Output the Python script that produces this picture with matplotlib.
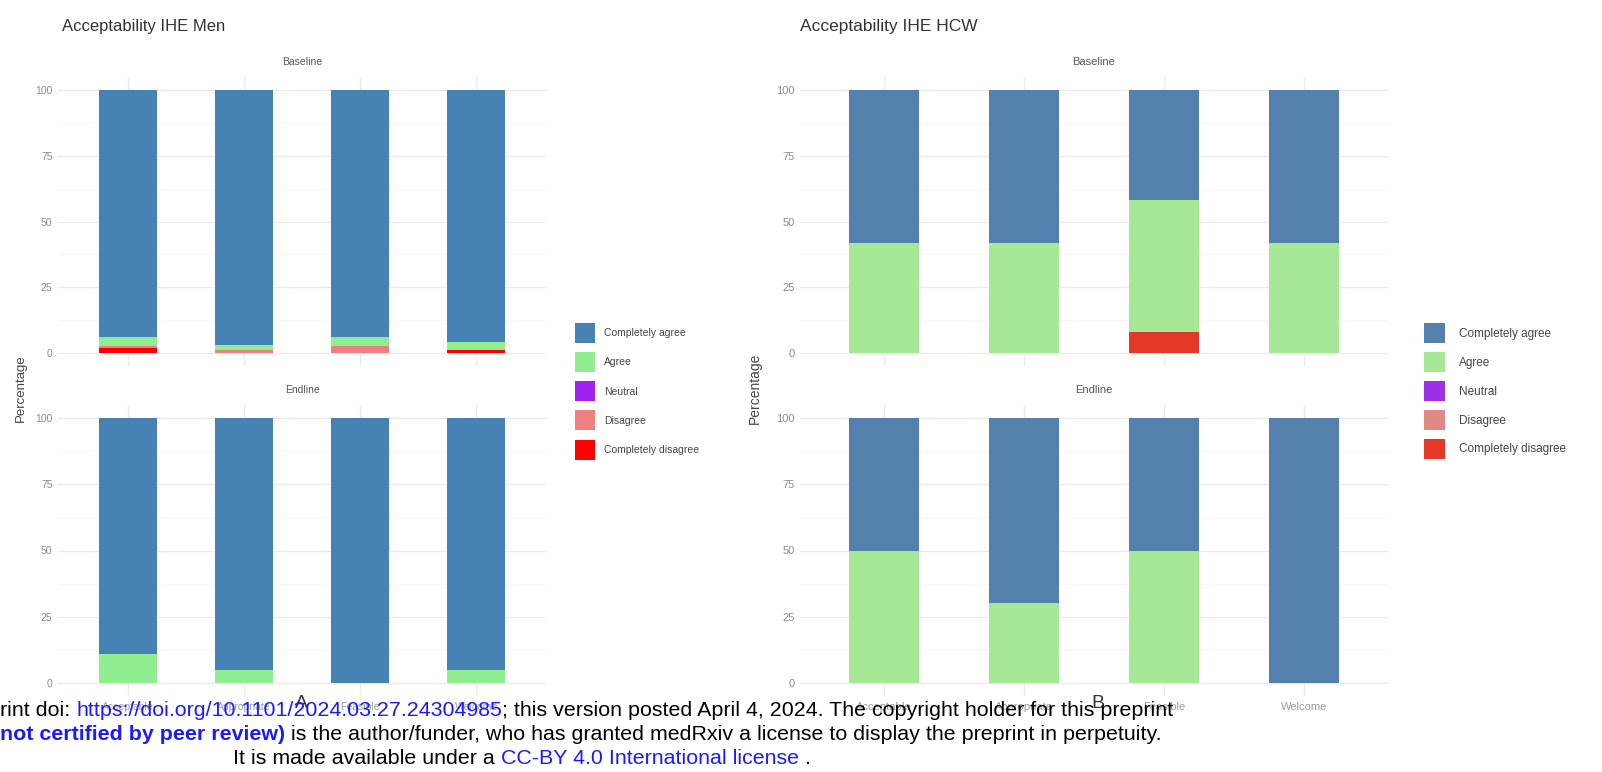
import numpy as np
import matplotlib
matplotlib.use("Agg")
import matplotlib.pyplot as plt
from matplotlib.patches import Patch

plt.rcParams['font.family'] = ['Liberation Sans', 'DejaVu Sans']

W, H = 1602, 772

# -----------------------------------------
# DATA
# -----------------------------------------
levels = ["Completely agree", "Agree", "Neutral", "Disagree", "Completely disagree"]
# stacking order from the bottom
stack_order = ["Completely disagree", "Disagree", "Neutral", "Agree", "Completely agree"]

men_items = ["Acceptable", "Appropriate", "Feasible", "Welcome"]
hcw_items = ["Acceptable", "Appropriate", "Feasible", "Welcome"]

men_baseline = {
    "Completely agree": [94, 97, 94, 96],
    "Agree": [3.5, 2, 3.5, 3],
    "Neutral": [0, 0, 0, 0],
    "Disagree": [0.5, 1, 2.5, 0],
    "Completely disagree": [2, 0, 0, 1],
}
men_endline = {
    "Completely agree": [89, 95, 100, 95],
    "Agree": [11, 5, 0, 5],
    "Neutral": [0, 0, 0, 0],
    "Disagree": [0, 0, 0, 0],
    "Completely disagree": [0, 0, 0, 0],
}
hcw_baseline = {
    "Completely agree": [58, 58, 42, 58],
    "Agree": [42, 42, 50, 42],
    "Neutral": [0, 0, 0, 0],
    "Disagree": [0, 0, 0, 0],
    "Completely disagree": [0, 0, 8, 0],
}
hcw_endline = {
    "Completely agree": [50, 70, 50, 100],
    "Agree": [50, 30, 50, 0],
    "Neutral": [0, 0, 0, 0],
    "Disagree": [0, 0, 0, 0],
    "Completely disagree": [0, 0, 0, 0],
}

men_colors = {
    "Completely agree": "#4682B4",
    "Agree": "#90EE90",
    "Neutral": "#A020F0",
    "Disagree": "#F08080",
    "Completely disagree": "#FF0000",
}
hcw_colors = {
    "Completely agree": "#5480AE",
    "Agree": "#A6E896",
    "Neutral": "#9B30E6",
    "Disagree": "#E08A86",
    "Completely disagree": "#E33826",
}

fig = plt.figure(figsize=(W / 100, H / 100), dpi=100)


def px_axes(x0, x1, y_top, y_bot):
    return fig.add_axes([x0 / W, 1 - y_bot / H, (x1 - x0) / W, (y_bot - y_top) / H])


def facet(ax, items, data, colors, strip, tick_fs, show_xlabels):
    x = np.arange(len(items))
    bottom = np.zeros(len(items))
    for lev in stack_order:
        vals = np.array(data[lev], dtype=float)
        ax.bar(x, vals, width=0.5, bottom=bottom, color=colors[lev], linewidth=0, zorder=3)
        bottom += vals
    ax.set_xlim(-0.6, len(items) - 0.4)
    ax.set_ylim(-5, 105)
    ax.set_yticks([0, 25, 50, 75, 100])
    ax.set_yticks([12.5, 37.5, 62.5, 87.5], minor=True)
    ax.set_xticks(x)
    ax.grid(True, which="major", color="#EBEBEB", linewidth=1.0, zorder=0)
    ax.grid(True, which="minor", axis="y", color="#F5F5F5", linewidth=0.6, zorder=0)
    for s in ax.spines.values():
        s.set_visible(False)
    ax.tick_params(which="both", length=0, labelsize=tick_fs, colors="#8C8C8C", pad=4)
    if show_xlabels:
        ax.set_xticklabels(items, color="#9A9A9A")
    else:
        ax.set_xticklabels([])
    ax.set_title(strip, fontsize=tick_fs, color="#555555", pad=8.5)


# left block: Men
ax = px_axes(58, 546, 77, 366)
facet(ax, men_items, men_baseline, men_colors, "Baseline", 7.5, False)
ax = px_axes(58, 546, 405, 696)
facet(ax, men_items, men_endline, men_colors, "Endline", 7.5, True)

# right block: HCW
ax = px_axes(800, 1388, 77, 366)
facet(ax, hcw_items, hcw_baseline, hcw_colors, "Baseline", 8, False)
ax = px_axes(800, 1388, 405, 696)
facet(ax, hcw_items, hcw_endline, hcw_colors, "Endline", 8, True)

# titles and y labels
fig.text(62 / W, 1 - 26 / H, "Acceptability IHE Men", fontsize=12, color="#333333", va="center")
fig.text(800 / W, 1 - 26 / H, "Acceptability IHE HCW", fontsize=12.5, color="#333333", va="center")
fig.text(21 / W, 1 - 388 / H, "Percentage", fontsize=9.5, color="#444444", rotation=90, ha="center", va="center")
fig.text(755 / W, 1 - 388 / H, "Percentage", fontsize=10, color="#444444", rotation=90, ha="center", va="center")

# legends
h_men = [Patch(facecolor=men_colors[l], edgecolor="none") for l in levels]
fig.legend(h_men, levels, loc="upper left", bbox_to_anchor=(570 / W, 1 - 318 / H),
           frameon=False, fontsize=7.5, handlelength=1.9, handleheight=2.58,
           labelspacing=0.87, handletextpad=0.9, labelcolor="#444444", borderpad=0)
h_hcw = [Patch(facecolor=hcw_colors[l], edgecolor="none") for l in levels]
fig.legend(h_hcw, levels, loc="upper left", bbox_to_anchor=(1418 / W, 1 - 317 / H),
           frameon=False, fontsize=8.5, handlelength=1.78, handleheight=2.23,
           labelspacing=0.76, handletextpad=1.2, labelcolor="#444444", borderpad=0)

# panel letters
fig.text(301 / W, 1 - 703 / H, "A", fontsize=14, color="#333333", ha="center", va="center")
fig.text(1098 / W, 1 - 703 / H, "B", fontsize=14, color="#333333", ha="center", va="center")

# medRxiv footer, drawn piece by piece
renderer = fig.canvas.get_renderer()
blue = "#1A1AFF"


def footer_line(x_px, y_px, pieces, fs=15.4):
    x = x_px
    for txt, col, wt in pieces:
        t = fig.text(x / W, 1 - y_px / H, txt, fontsize=fs, color=col, weight=wt,
                     va="center", ha="left")
        bb = t.get_window_extent(renderer=renderer)
        x += bb.width


footer_line(0, 711, [("rint doi: ", "black", "normal"),
                     ("https://doi.org/10.1101/2024.03.27.24304985", blue, "normal"),
                     ("; this version posted April 4, 2024. The copyright holder for this preprint", "black", "normal")])
footer_line(0, 735, [("not certified by peer review)", blue, "bold"),
                     (" is the author/funder, who has granted medRxiv a license to display the preprint in perpetuity.", "black", "normal")])
footer_line(233, 758, [("It is made available under a ", "black", "normal"),
                       ("CC-BY 4.0 International license", blue, "normal"),
                       (" .", "black", "normal")])

fig.savefig("out.png", dpi=100)
